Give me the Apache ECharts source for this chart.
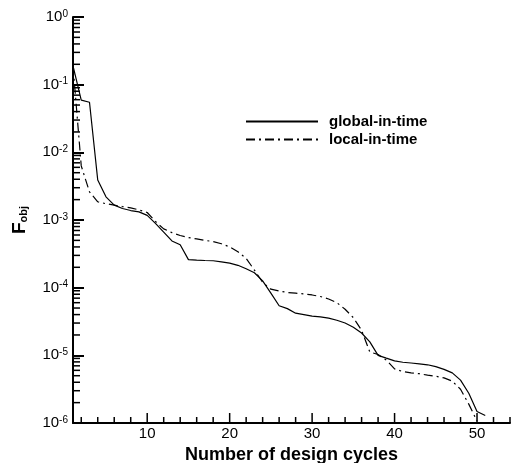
<!DOCTYPE html>
<html>
<head>
<meta charset="utf-8">
<script src="https://cdn.jsdelivr.net/npm/echarts@6/dist/echarts.min.js"></script>
<style>
html,body{margin:0;padding:0;background:#fff;}
#chart{width:512px;height:463px;}
</style>
</head>
<body>
<div id="chart"></div>
<script>
// ---- data ----
const cyclesGlobal = [1,2,3,4,5,6,7,8,9,10,11,12,13,14,15,16,17,18,19,20,21,22,23,24,25,26,27,28,29,30,31,32,33,34,35,36,37,38,39,40,41,42,43,44,45,46,47,48,49,50,51];
const globalInTime = [0.19,0.059,0.055,3.9e-3,2.2e-3,1.66e-3,1.48e-3,1.38e-3,1.32e-3,1.17e-3,
  8.9e-4,6.6e-4,4.9e-4,4.3e-4,2.6e-4,2.55e-4,2.52e-4,2.5e-4,2.4e-4,2.3e-4,
  2.14e-4,1.9e-4,1.66e-4,1.26e-4,8.3e-5,5.4e-5,4.9e-5,4.2e-5,4.0e-5,3.8e-5,
  3.7e-5,3.55e-5,3.3e-5,3.0e-5,2.6e-5,2.14e-5,1.58e-5,1.0e-5,9.1e-6,8.3e-6,
  7.9e-6,7.7e-6,7.5e-6,7.25e-6,6.8e-6,6.2e-6,5.5e-6,4.3e-6,2.75e-6,1.48e-6,1.29e-6];
const cyclesLocal = [1,2,3,4,5,6,7,8,9,10,11,12,13,14,15,16,17,18,19,20,21,22,23,24,25,26,27,28,29,30,31,32,33,34,35,36,37,38,39,40,41,42,43,44,45,46,47,48,49,50];
const localInTime = [0.19,6.3e-3,2.6e-3,1.86e-3,1.74e-3,1.66e-3,1.58e-3,1.51e-3,1.41e-3,1.29e-3,
  9.5e-4,7.4e-4,6.5e-4,5.9e-4,5.5e-4,5.25e-4,5.0e-4,4.8e-4,4.45e-4,4.0e-4,
  3.4e-4,2.7e-4,1.82e-4,1.2e-4,9.5e-5,8.9e-5,8.5e-5,8.3e-5,8.1e-5,7.8e-5,
  7.4e-5,6.8e-5,6.0e-5,4.8e-5,3.6e-5,2.35e-5,1.12e-5,1.03e-5,8.5e-6,6.3e-6,
  5.75e-6,5.5e-6,5.35e-6,5.1e-6,4.9e-6,4.65e-6,4.15e-6,3.15e-6,1.9e-6,1.07e-6];
const seriesNames = ['global-in-time','local-in-time'];
const xMajorTicks = [10,20,30,40,50];
const xMinorTicks = [2,4,6,8,12,14,16,18,22,24,26,28,32,34,36,38,42,44,46,48,52,54];
const yDecades = [-6,-5,-4,-3,-2,-1];
const yMinorFactors = [2,3,4,5,6,7,8,9];
const xMin = 1, xMax = 54, yMin = 1e-6, yMax = 1;

const FONT = '"Liberation Sans", Arial, Helvetica, sans-serif';
function pairs(xs, ys){ return xs.map((x,i)=>[x, ys[i]]); }

// tick items: [x, y, kind(0 = x tick, 1 = y tick), length]
const tickData = [];
xMajorTicks.forEach(v=>tickData.push([v, yMin, 0, 10]));
xMinorTicks.forEach(v=>tickData.push([v, yMin, 0, 6]));
yDecades.forEach(d=>yMinorFactors.forEach(f=>tickData.push([xMin, f*Math.pow(10,d), 1, 7])));

const chart = echarts.init(document.getElementById('chart'), null, {renderer:'canvas'});
chart.setOption({
  animation:false,
  backgroundColor:'#ffffff',
  grid:{left:73, top:17, width:437, height:406, containLabel:false, outerBoundsMode:'none'},
  legend:{
    orient:'vertical', left:245, top:114, padding:0, itemWidth:72, itemHeight:14, itemGap:3,
    data:seriesNames,
    itemStyle:{opacity:0, borderWidth:0},
    textStyle:{fontFamily:FONT, fontWeight:'bold', fontSize:15, color:'#000', padding:[0,0,0,6]},
    inactiveColor:'#000'
  },
  xAxis:{
    type:'value', min:xMin, max:xMax, splitNumber:5,
    axisLine:{show:true, lineStyle:{color:'#000', width:2}},
    axisTick:{show:false}, splitLine:{show:false},
    axisLabel:{margin:3, color:'#000', fontFamily:FONT, fontSize:15,
      formatter:function(v){ return xMajorTicks.indexOf(v) >= 0 ? String(v) : ''; }},
    name:'Number of design cycles', nameLocation:'middle', nameGap:17,
    nameTextStyle:{fontFamily:FONT, fontWeight:'bold', fontSize:18, color:'#000'}
  },
  yAxis:{
    type:'log', logBase:10, min:yMin, max:yMax,
    axisLine:{show:true, lineStyle:{color:'#000', width:2}},
    axisTick:{show:true, inside:true, length:11, lineStyle:{color:'#000', width:2}},
    splitLine:{show:false},
    axisLabel:{margin:5, color:'#000',
      formatter:function(v){ const e = Math.round(Math.log10(v)); return '{b|10}{s|' + e + '}'; },
      rich:{ b:{fontFamily:FONT, fontSize:15, color:'#000'},
        s:{fontFamily:FONT, fontSize:10, color:'#000', verticalAlign:'top', padding:[0,0,6,0]} }},
    name:'{f|F}{o|obj}', nameLocation:'middle', nameGap:44, nameRotate:90,
    nameTextStyle:{ rich:{
        f:{fontFamily:FONT, fontWeight:'bold', fontSize:19, color:'#000'},
        o:{fontFamily:FONT, fontWeight:'bold', fontSize:11, color:'#000', verticalAlign:'bottom', padding:[6,0,0,0]} } }
  },
  series:[
    { name:seriesNames[0], type:'line', data:pairs(cyclesGlobal, globalInTime), symbol:'none', showSymbol:false, clip:true,
      lineStyle:{color:'#000', width:1.2, type:'solid'}, itemStyle:{color:'#000'} },
    { name:seriesNames[1], type:'line', data:pairs(cyclesLocal, localInTime), symbol:'none', showSymbol:false, clip:true,
      lineStyle:{color:'#000', width:1.2, type:[9,4,2,4]}, itemStyle:{color:'#000'} },
    { name:'ticks', type:'custom', silent:true, clip:false, z:5, data:tickData, encode:{x:0, y:1},
      renderItem:function(params, api){
        const p = api.coord([api.value(0), api.value(1)]);
        const kind = api.value(2), len = api.value(3);
        const end = kind === 0 ? [p[0], p[1]-len] : [p[0]+len, p[1]];
        return {type:'line', shape:{x1:p[0], y1:p[1], x2:end[0], y2:end[1]}, style:{stroke:'#000', lineWidth:1.5}};
      } }
  ]
});
</script>
</body>
</html>
